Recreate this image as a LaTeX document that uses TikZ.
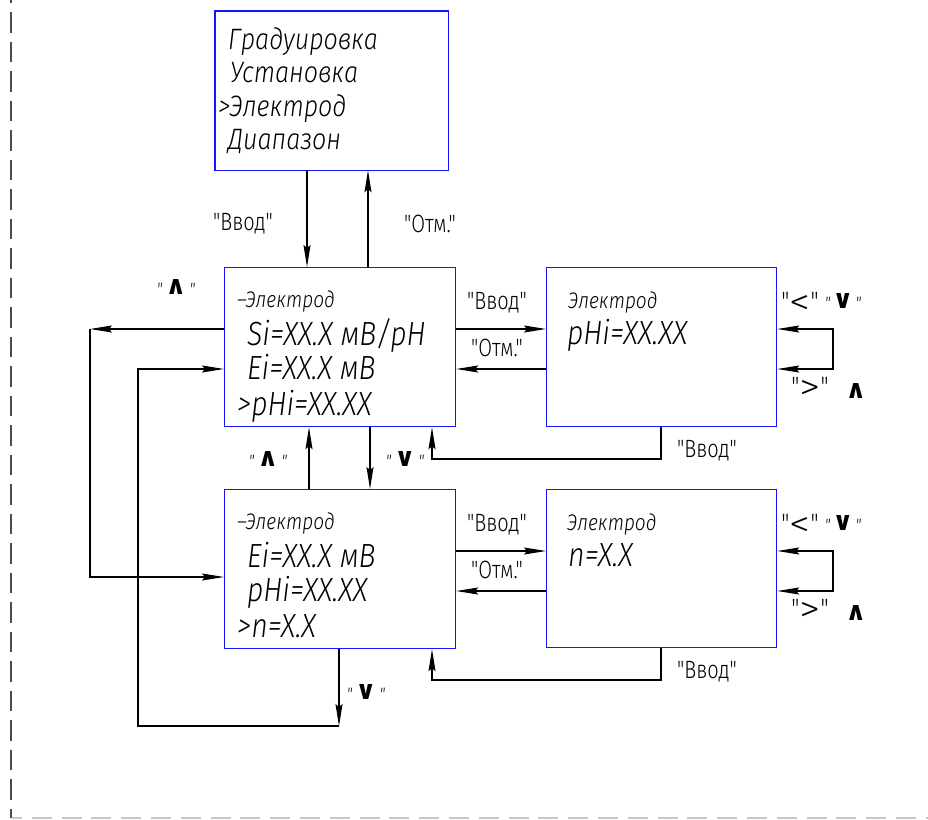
\documentclass[tikz,border=0pt]{standalone}
\usepackage{fontspec}
\usepackage{graphicx}
\usetikzlibrary{arrows.meta,calc}
\newfontfamily\gost{Fira Sans Light}[FakeStretch=0.85]
\newfontfamily\gostR{Fira Sans Light}[FakeStretch=0.8]
\newfontfamily\symb{DejaVu Sans}
\definecolor{boxblue}{RGB}{20,20,255}
\newcommand{\chup}{\resizebox{!}{15pt}{\symb\bfseries ∧}}
\newcommand{\chdn}{\resizebox{!}{15pt}{\symb\bfseries ∨}}
\newcommand{\sq}{\raisebox{-1pt}{\gost\itshape\fontsize{18}{18}\selectfont "}}
\newcommand{\bq}{\raisebox{3pt}{\gostR\fontsize{28}{28}\selectfont "}}
\newcommand{\bigsym}[1]{\resizebox{21pt}{19pt}{\gostR #1}}
\begin{document}
\begin{tikzpicture}[x=1pt,y=-1pt,
  box/.style={draw=boxblue, line width=1.2pt, inner sep=0pt, anchor=north west},
  ln/.style={draw=black, line width=1.2pt},
  arr/.style={ln, -{Stealth[length=22pt,width=7pt,inset=3pt]}},
  biga/.style={ln, {Stealth[length=22pt,width=7pt,inset=3pt]}-{Stealth[length=22pt,width=7pt,inset=3pt]}},
  big/.style={font=\gost\itshape\fontsize{29.5}{29.5}\selectfont, inner sep=0pt, anchor=base west},
  dat/.style={font=\gost\itshape\fontsize{33.5}{33.5}\selectfont, inner sep=0pt, anchor=base west},
  hd/.style={font=\gost\itshape\fontsize{22.5}{22.5}\selectfont, inner sep=0pt, anchor=base west},
  lab/.style={font=\gostR\fontsize{25}{25}\selectfont, inner sep=0pt},
  sym/.style={inner sep=0pt}
]
\useasboundingbox (0,0) rectangle (928,819);
% boxes
\node[box, draw=none, minimum width=232pt, minimum height=158pt] (TB) at (215,11) {};
\draw[draw=boxblue, line width=1.2pt] (TB.north west) rectangle (TB.south east);
\node[box, minimum width=231pt, minimum height=159pt] (ML) at (224,267) {};
\node[box, minimum width=230pt, minimum height=159pt] (MR) at (546,267) {};
\node[box, minimum width=231pt, minimum height=159pt] (BL) at (224,489) {};
\node[box, minimum width=230pt, minimum height=158pt] (BR) at (546,489) {};

% frame
\draw[draw=black!70, line width=1.4pt, dash pattern=on 20.5pt off 9pt, dash phase=17.5pt] (11,0) -- (11,818);
\draw[draw=black!22, line width=1.1pt, dash pattern=on 20pt off 9.8pt, dash phase=10pt] (12,818) -- (928,818);

% top box text
\node[big] (t1) at (228,49) {Градуировка};
\node[big] (t2) at (230,82) {Установка};
\node[big] (t3) at (218,116) {>Электрод};
\node[big] (t4) at (228,149) {Диапазон};

% ML text
\node[hd] (m1) at (237,307) {–Электрод};
\node[dat] (m2) at (247,345) {Si=XX.X мВ/pH};
\node[dat] (m3) at (247,379) {Ei=XX.X мВ};
\node[dat] (m4) at (237,415) {>pHi=XX.XX};

% MR text
\node[hd] (r1) at (568,308) {Электрод};
\node[dat] (r2) at (567,344) {pHi=XX.XX};

% BL text
\node[hd] (b1) at (237,529) {–Электрод};
\node[dat] (b2) at (247,567) {Ei=XX.X мВ};
\node[dat] (b3) at (247,601) {pHi=XX.XX};
\node[dat] (b4) at (237,637) {>n=X.X};

% BR text
\node[hd] (s1) at (567,530) {Электрод};
\node[dat] (s2) at (568,566) {n=X.X};

% helper coordinates
\coordinate (cA) at (307,0);
\coordinate (cB) at (368,0);
\coordinate (cC) at (309,0);
\coordinate (cD) at (370,0);
\coordinate (cE) at (432,0);
\coordinate (cF) at (661,0);
\coordinate (cG) at (833,0);
\coordinate (cH) at (90,0);
\coordinate (cI) at (138,0);
\coordinate (cJ) at (339,0);
\coordinate (y1) at (0,329);
\coordinate (y2) at (0,369);
\coordinate (y3) at (0,459);
\coordinate (y4) at (0,551);
\coordinate (y5) at (0,591);
\coordinate (y6) at (0,680);
\coordinate (y7) at (0,577);
\coordinate (y8) at (0,726);

% top <-> ML
\draw[arr] (cA |- TB.south) -- (cA |- ML.north);
\draw[arr] (cB |- ML.north) -- (cB |- TB.south);
% ML <-> MR
\draw[arr] (ML.east |- y1) -- (MR.west |- y1);
\draw[arr] (MR.west |- y2) -- (ML.east |- y2);
\draw[biga] (MR.east |- y1) -- (cG |- y1) -- (cG |- y2) -- (MR.east |- y2);
\draw[arr] (cF |- MR.south) -- (cF |- y3) -- (cE |- y3) -- (cE |- ML.south);
% ML <-> BL
\draw[arr] (cC |- BL.north) -- (cC |- ML.south);
\draw[arr] (cD |- ML.south) -- (cD |- BL.north);
% BL <-> BR
\draw[arr] (BL.east |- y4) -- (BR.west |- y4);
\draw[arr] (BR.west |- y5) -- (BL.east |- y5);
\draw[biga] (BR.east |- y4) -- (cG |- y4) -- (cG |- y5) -- (BR.east |- y5);
\draw[arr] (cF |- BR.south) -- (cF |- y6) -- (cE |- y6) -- (cE |- BL.south);
% left loops
\draw[arr] (ML.west |- y1) -- (cH |- y1);
\draw[arr] (cH |- y1) -- (cH |- y7) -- (BL.west |- y7);
\draw[arr] (cJ |- BL.south) -- (cJ |- y8);
\draw[arr] (cJ |- y8) -- (cI |- y8) -- (cI |- y2) -- (ML.west |- y2);

% labels
\node[lab] (l1) at (243,224) {"Ввод"};
\node[lab] (l2) at (430,224) {"Отм."};
\node[lab] (l3) at (497,303) {"Ввод"};
\node[lab] (l4) at (497,348) {"Отм."};
\node[lab] (l5) at (707,451) {"Ввод"};
\node[lab] (l6) at (497,525) {"Ввод"};
\node[lab] (l7) at (497,570) {"Отм."};
\node[lab] (l8) at (707,672) {"Ввод"};

\node[sym] (k1) at (176,287) {\sq\hspace{3pt}\chup\hspace{3pt}\sq};
\node[sym] (k2) at (268,459) {\sq\hspace{3pt}\chup\hspace{3pt}\sq};
\node[sym] (k3) at (405,459) {\sq\hspace{3pt}\chdn\hspace{3pt}\sq};
\node[sym] (k4) at (366,692) {\sq\hspace{3pt}\chdn\hspace{3pt}\sq};

\node[sym] (q1) at (800,303) {\bq\bigsym{<}\bq};
\node[sym] (q2) at (843,301) {\sq\hspace{2pt}\chdn\hspace{2pt}\sq};
\node[sym] (q3) at (810,388) {\bq\bigsym{>}\bq};
\node[sym] (q4) at (856,391) {\chup};
\node[sym] (q5) at (800,525) {\bq\bigsym{<}\bq};
\node[sym] (q6) at (843,523) {\sq\hspace{2pt}\chdn\hspace{2pt}\sq};
\node[sym] (q7) at (810,610) {\bq\bigsym{>}\bq};
\node[sym] (q8) at (856,613) {\chup};
\end{tikzpicture}
\end{document}
